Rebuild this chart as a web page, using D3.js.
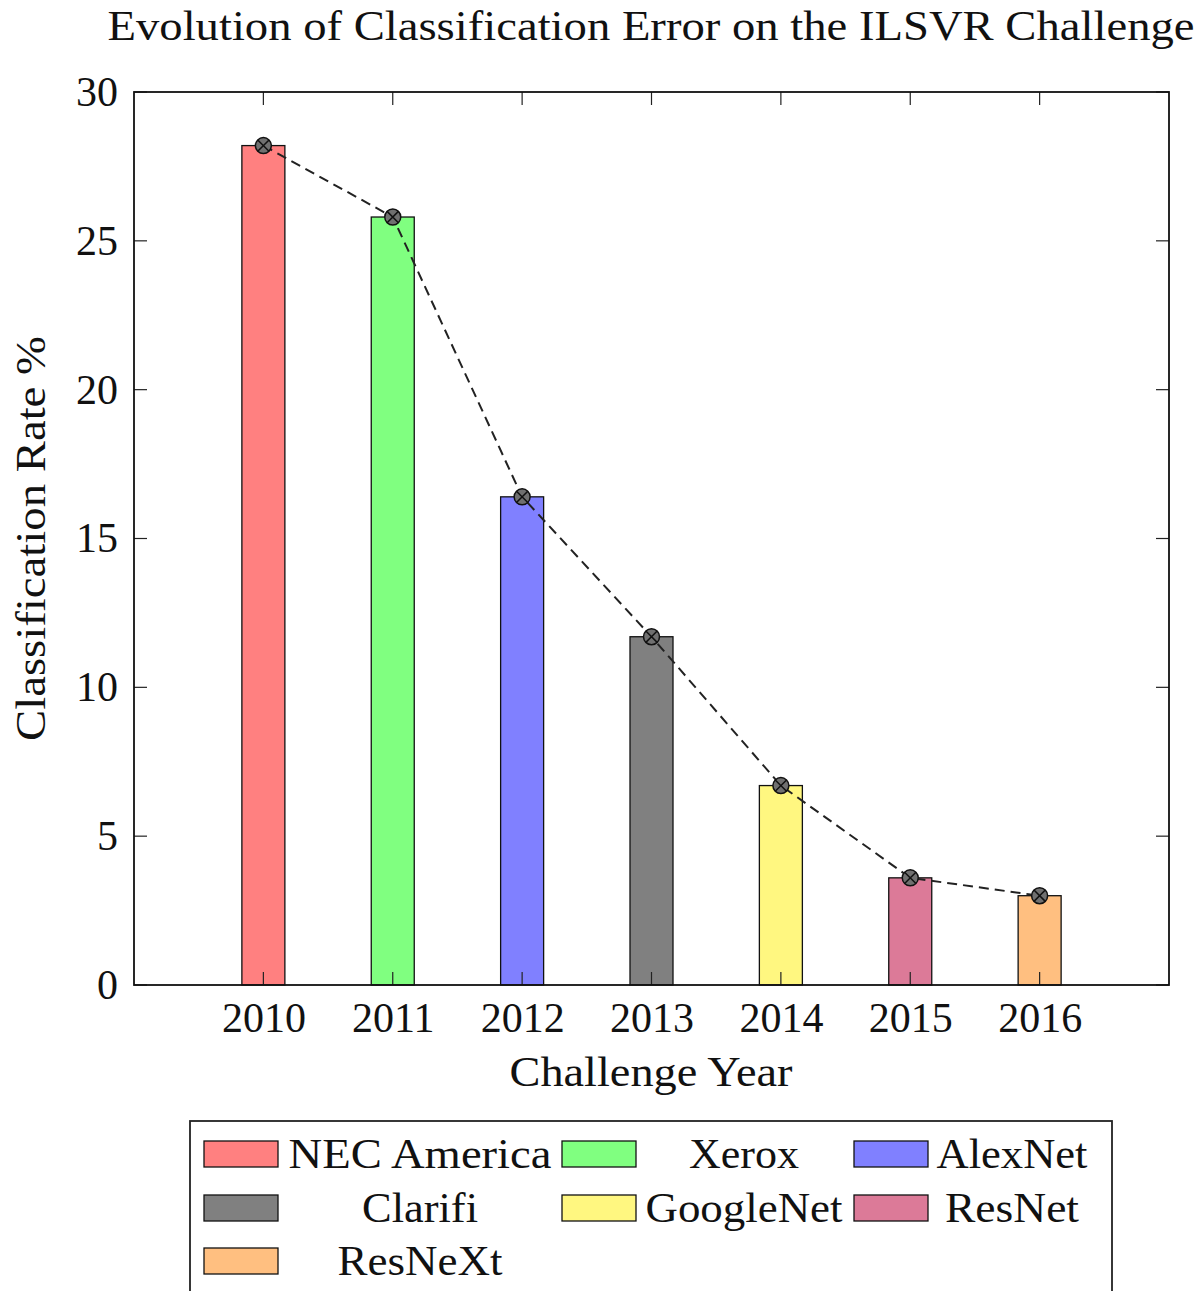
<!DOCTYPE html>
<html>
<head>
<meta charset="utf-8">
<script src="https://cdn.jsdelivr.net/npm/d3@7"></script>
<style>
  html, body { margin: 0; padding: 0; background: #fff; }
  svg text { font-family: "Liberation Serif", "DejaVu Serif", serif; fill: #111; }
</style>
</head>
<body>
<svg id="chart" width="1202" height="1291"></svg>
<script>
// Top-5 classification error of the ILSVRC winners, by year
const years = [2010, 2011, 2012, 2013, 2014, 2015, 2016];
const errors = [28.2, 25.8, 16.4, 11.7, 6.7, 3.6, 3.0];
const models = ["NEC America", "Xerox", "AlexNet", "Clarifi", "GoogleNet", "ResNet", "ResNeXt"];
const colors = ["#ff8080", "#80ff80", "#8080ff", "#808080", "#fff780", "#dc7a98", "#ffbf80"];
const yTicks = [0, 5, 10, 15, 20, 25, 30];

// Widths the serif labels are stretched to
const legendWidths = [263, 110, 151, 116, 197, 134, 165];

const svg = d3.select("#chart");
const plot = { left: 134, right: 1169, top: 92, bottom: 985 };

const x = d3.scaleLinear().domain([2009, 2017]).range([plot.left, plot.right]);
const y = d3.scaleLinear().domain([0, 30]).range([plot.bottom, plot.top]);
const barW = 43;
const tickLen = 13;

// Title
svg.append("text")
  .attr("x", 651).attr("y", 40)
  .attr("text-anchor", "middle")
  .attr("font-size", 42)
  .attr("textLength", 1087).attr("lengthAdjust", "spacingAndGlyphs")
  .text("Evolution of Classification Error on the ILSVR Challenge");

// Bars
svg.append("g").selectAll("rect")
  .data(years)
  .join("rect")
  .attr("x", (d) => x(d) - barW / 2)
  .attr("y", (d, i) => y(errors[i]))
  .attr("width", barW)
  .attr("height", (d, i) => y(0) - y(errors[i]))
  .attr("fill", (d, i) => colors[i])
  .attr("stroke", "#111")
  .attr("stroke-width", 1.3);

// Inner ticks on all four sides
const tickG = svg.append("g").attr("stroke", "#222").attr("stroke-width", 1.2);
years.forEach((yr) => {
  tickG.append("line").attr("x1", x(yr)).attr("x2", x(yr)).attr("y1", plot.top).attr("y2", plot.top + tickLen);
  tickG.append("line").attr("x1", x(yr)).attr("x2", x(yr)).attr("y1", plot.bottom).attr("y2", plot.bottom - tickLen);
});
yTicks.forEach((t) => {
  tickG.append("line").attr("x1", plot.left).attr("x2", plot.left + tickLen).attr("y1", y(t)).attr("y2", y(t));
  tickG.append("line").attr("x1", plot.right).attr("x2", plot.right - tickLen).attr("y1", y(t)).attr("y2", y(t));
});

// Frame
svg.append("rect")
  .attr("x", plot.left).attr("y", plot.top)
  .attr("width", plot.right - plot.left).attr("height", plot.bottom - plot.top)
  .attr("fill", "none").attr("stroke", "#111").attr("stroke-width", 1.8);

// Axis tick labels via d3 axes (domain/tick lines hidden, frame drawn above)
const xAxis = svg.append("g")
  .attr("transform", `translate(0,${plot.bottom})`)
  .call(d3.axisBottom(x).tickValues(years).tickFormat(d3.format("d")).tickSize(0).tickPadding(14));
const yAxis = svg.append("g")
  .attr("transform", `translate(${plot.left},0)`)
  .call(d3.axisLeft(y).tickValues(yTicks).tickSize(0).tickPadding(16));
[xAxis, yAxis].forEach((g) => {
  g.select(".domain").remove();
  g.selectAll("text").attr("font-size", 42).attr("fill", "#111")
    .style("font-family", '"Liberation Serif", "DejaVu Serif", serif');
});
xAxis.selectAll("text").attr("dy", "0.78em");

// Axis titles
svg.append("text")
  .attr("x", 651).attr("y", 1086)
  .attr("text-anchor", "middle").attr("font-size", 42)
  .attr("textLength", 283).attr("lengthAdjust", "spacingAndGlyphs")
  .text("Challenge Year");
svg.append("text")
  .attr("transform", `translate(45,${(plot.top + plot.bottom) / 2}) rotate(-90)`)
  .attr("text-anchor", "middle").attr("font-size", 42)
  .attr("textLength", 405).attr("lengthAdjust", "spacingAndGlyphs")
  .text("Classification Rate %");

// Trend line through bar tops
const line = d3.line().x((d) => x(d)).y((d, i) => y(errors[i]));
svg.append("path")
  .datum(years)
  .attr("d", line)
  .attr("fill", "none")
  .attr("stroke", "#222")
  .attr("stroke-width", 2)
  .attr("stroke-dasharray", "10,6");

// Circled-cross markers
const r = 8;
const mk = svg.append("g").selectAll("g")
  .data(years)
  .join("g")
  .attr("transform", (d, i) => `translate(${x(d)},${y(errors[i])})`);
mk.append("circle").attr("r", r).attr("fill", "#707070").attr("stroke", "#111").attr("stroke-width", 1.5);
const c = r * Math.SQRT1_2;
mk.append("path")
  .attr("d", `M${-c},${-c}L${c},${c}M${-c},${c}L${c},${-c}`)
  .attr("stroke", "#111").attr("stroke-width", 1.5);

// Legend
const legend = svg.append("g");
legend.append("rect")
  .attr("x", 190).attr("y", 1121)
  .attr("width", 922).attr("height", 200)
  .attr("fill", "#fff").attr("stroke", "#222").attr("stroke-width", 1.8);

const colSwatchX = [204, 562, 854];
const colTextCx = [420, 744, 1012];
const rowCy = [1154, 1208, 1261];
models.forEach((m, i) => {
  const col = i % 3, row = Math.floor(i / 3);
  legend.append("rect")
    .attr("x", colSwatchX[col]).attr("y", rowCy[row] - 13)
    .attr("width", 74).attr("height", 26)
    .attr("fill", colors[i]).attr("stroke", "#111").attr("stroke-width", 1.3);
  legend.append("text")
    .attr("x", colTextCx[col]).attr("y", rowCy[row])
    .attr("dy", "0.33em")
    .attr("text-anchor", "middle").attr("font-size", 42)
    .attr("textLength", legendWidths[i]).attr("lengthAdjust", "spacingAndGlyphs")
    .text(m);
});
</script>
</body>
</html>
